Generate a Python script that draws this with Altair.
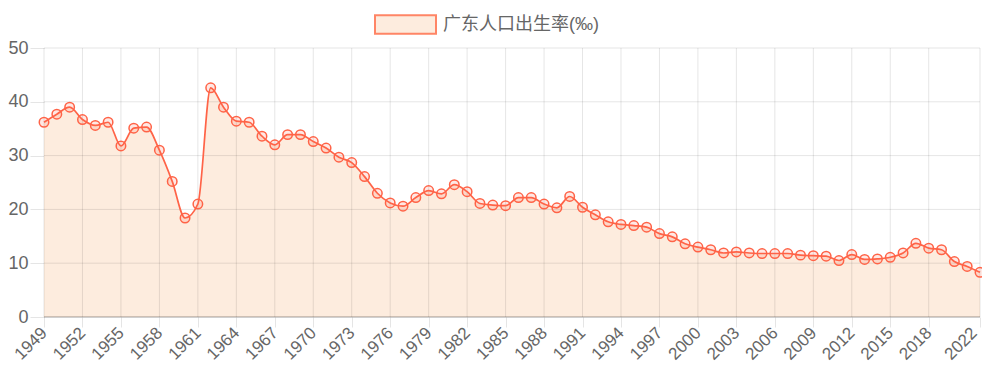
import altair as alt
import pandas as pd

years = list(range(1949, 2023))
rates = [36.2, 37.7, 39.0, 36.7, 35.6, 36.2, 31.8, 35.1, 35.3, 31.0,
         25.2, 18.4, 21.0, 42.6, 39.0, 36.4, 36.2, 33.6, 32.0, 33.9,
         33.9, 32.6, 31.4, 29.7, 28.7, 26.1, 23.0, 21.2, 20.6, 22.2,
         23.5, 22.9, 24.6, 23.3, 21.1, 20.8, 20.7, 22.2, 22.2, 21.0,
         20.3, 22.4, 20.4, 19.0, 17.7, 17.2, 17.0, 16.7, 15.5, 14.9,
         13.6, 13.0, 12.5, 11.9, 12.1, 11.9, 11.8, 11.8, 11.8, 11.5,
         11.4, 11.3, 10.5, 11.6, 10.7, 10.8, 11.1, 11.9, 13.7, 12.8,
         12.5, 10.3, 9.4, 8.3]
series_name = "广东人口出生率(‰)"
x_ticks = list(range(1949, 2019, 3)) + [2022]
y_ticks = [0, 10, 20, 30, 40, 50]

LINE = "#FF6347"
FILL = "#FDECDE"
GRID = "rgba(0,0,0,0.1)"
TXT = "#666666"
FONT = "Liberation Sans, Arial, Noto Sans CJK SC"

df = pd.DataFrame({"year": years, "rate": rates, "series": [series_name] * len(years)})
vgrid = pd.DataFrame({"year": x_ticks})
hgrid = pd.DataFrame({"rate": y_ticks[1:]})
zero = pd.DataFrame({"rate": [0]})

xscale = alt.Scale(domain=[1949, 2022], nice=False, zero=False)
yscale = alt.Scale(domain=[0, 50], nice=False)
xaxis = alt.Axis(values=x_ticks, format="d", title=None, grid=False, domain=False,
                 tickSize=10, tickColor=GRID, labelAngle=315, labelAlign="right",
                 labelBaseline="middle", labelPadding=3, labelFontSize=17,
                 labelOffset=alt.condition("datum.value == 2022", alt.value(-6), alt.value(0)),
                 labelColor=TXT, labelFont=FONT, labelOverlap=False, labelFlush=False)
yaxis = alt.Axis(values=y_ticks, title=None, grid=False, domain=False,
                 tickSize=14, tickColor=GRID, labelPadding=2, labelFontSize=18,
                 labelColor=TXT, labelFont=FONT)

X = alt.X("year:Q", scale=xscale, axis=xaxis)
Y = alt.Y("rate:Q", scale=yscale, axis=yaxis)

area = alt.Chart(df).mark_area(interpolate="monotone", opacity=1).encode(
    x=X, y=Y,
    color=alt.Color("series:N", scale=alt.Scale(range=[FILL]),
                    legend=alt.Legend(title=None, orient="none", legendX=330, legendY=-55,
                                      symbolType="M-1,-0.3H1V0.3H-1Z", symbolSize=3721,
                                      symbolStrokeColor="#FF8566", symbolStrokeWidth=2,
                                      symbolOpacity=1, labelFontSize=18, labelColor=TXT,
                                      labelFont=FONT, labelOffset=6, padding=0))
)

vrules = alt.Chart(vgrid).mark_rule(color=GRID, strokeWidth=1).encode(x=X)
hrules = alt.Chart(hgrid).mark_rule(color=GRID, strokeWidth=1).encode(y=Y)
zrule = alt.Chart(zero).mark_rule(color="rgba(0,0,0,0.25)", strokeWidth=1.5).encode(y=Y)

line = alt.Chart(df).mark_line(interpolate="monotone", color=LINE, strokeWidth=1.7).encode(x=X, y=Y)
pts = alt.Chart(df).mark_point(shape="circle", filled=True, fill=LINE, fillOpacity=0.15,
                               stroke=LINE, strokeWidth=1.5, size=90, opacity=1).encode(x=X, y=Y)

chart = alt.layer(area, vrules, hrules, zrule, line, pts).properties(
    width=936, height=269,
    autosize=alt.AutoSizeParams(type="none"),
    padding={"left": 36, "top": 40, "right": 2, "bottom": 60},
).configure_view(stroke=None)

chart.save("out.html", embed_options={"renderer": "svg", "actions": False})
